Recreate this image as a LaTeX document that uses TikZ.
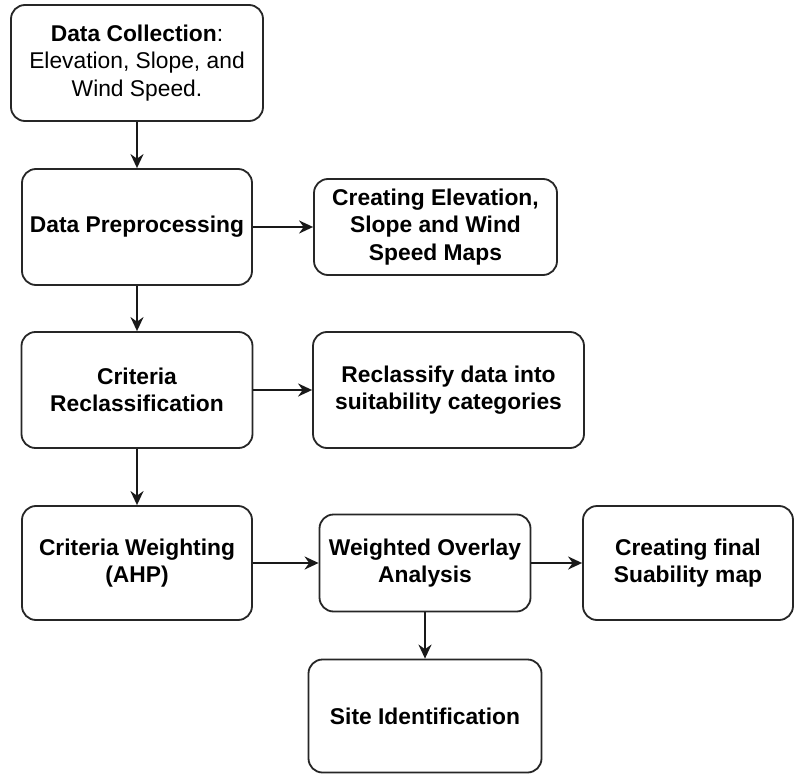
\documentclass[tikz,border=0pt]{standalone}
\usepackage{fontspec}
\setmainfont{Liberation Sans}
\usetikzlibrary{arrows.meta,positioning}

\begin{document}
\begin{tikzpicture}[x=1pt,y=-1pt,>={Stealth[length=14pt,width=13pt]},
    stage/.style={draw=black!85,line width=1.8pt,rounded corners=14pt,fill=white,
      align=center,inner sep=0pt,font=\fontsize{22.8}{27.5}\selectfont\bfseries},
    flow/.style={->,line width=2pt,black!90}]
  \useasboundingbox[fill=white] (0,0) rectangle (805,775);

  % left column
  \node[stage,minimum width=252pt,minimum height=116pt] (collect) at (137,63)
    {Data Collection\mdseries:\\\mdseries Elevation, Slope, and\\\mdseries Wind Speed.};
  \node[stage,minimum width=230pt,minimum height=116pt] (prep) at (137,227)
    {Data Preprocessing};
  \node[stage,minimum width=231pt,minimum height=116pt] (reclass) at (137,390)
    {Criteria\\Reclassification};
  \node[stage,minimum width=230pt,minimum height=114pt] (weight) at (137,563)
    {Criteria Weighting\\(AHP)};

  % outputs on the right
  \node[stage,minimum width=243pt,minimum height=96pt] (maps) at (435.5,227)
    {Creating Elevation,\\Slope and Wind\\Speed Maps};
  \node[stage,minimum width=271pt,minimum height=116pt] (cats) at (448.5,390)
    {Reclassify data into\\suitability categories};
  \node[stage,minimum width=211pt,minimum height=97pt] (overlay) at (425,563)
    {Weighted Overlay\\Analysis};
  \node[stage,minimum width=210pt,minimum height=114pt] (final) at (688,563)
    {Creating final\\Suability map};
  \node[stage,minimum width=233pt,minimum height=113pt] (site) at (425,716)
    {Site Identification};

  \draw[flow] (collect) -- (prep);
  \draw[flow] (prep) -- (maps);
  \draw[flow] (prep) -- (reclass);
  \draw[flow] (reclass) -- (cats);
  \draw[flow] (reclass) -- (weight);
  \draw[flow] (weight) -- (overlay);
  \draw[flow] (overlay) -- (final);
  \draw[flow] (overlay) -- (site);
\end{tikzpicture}
\end{document}
